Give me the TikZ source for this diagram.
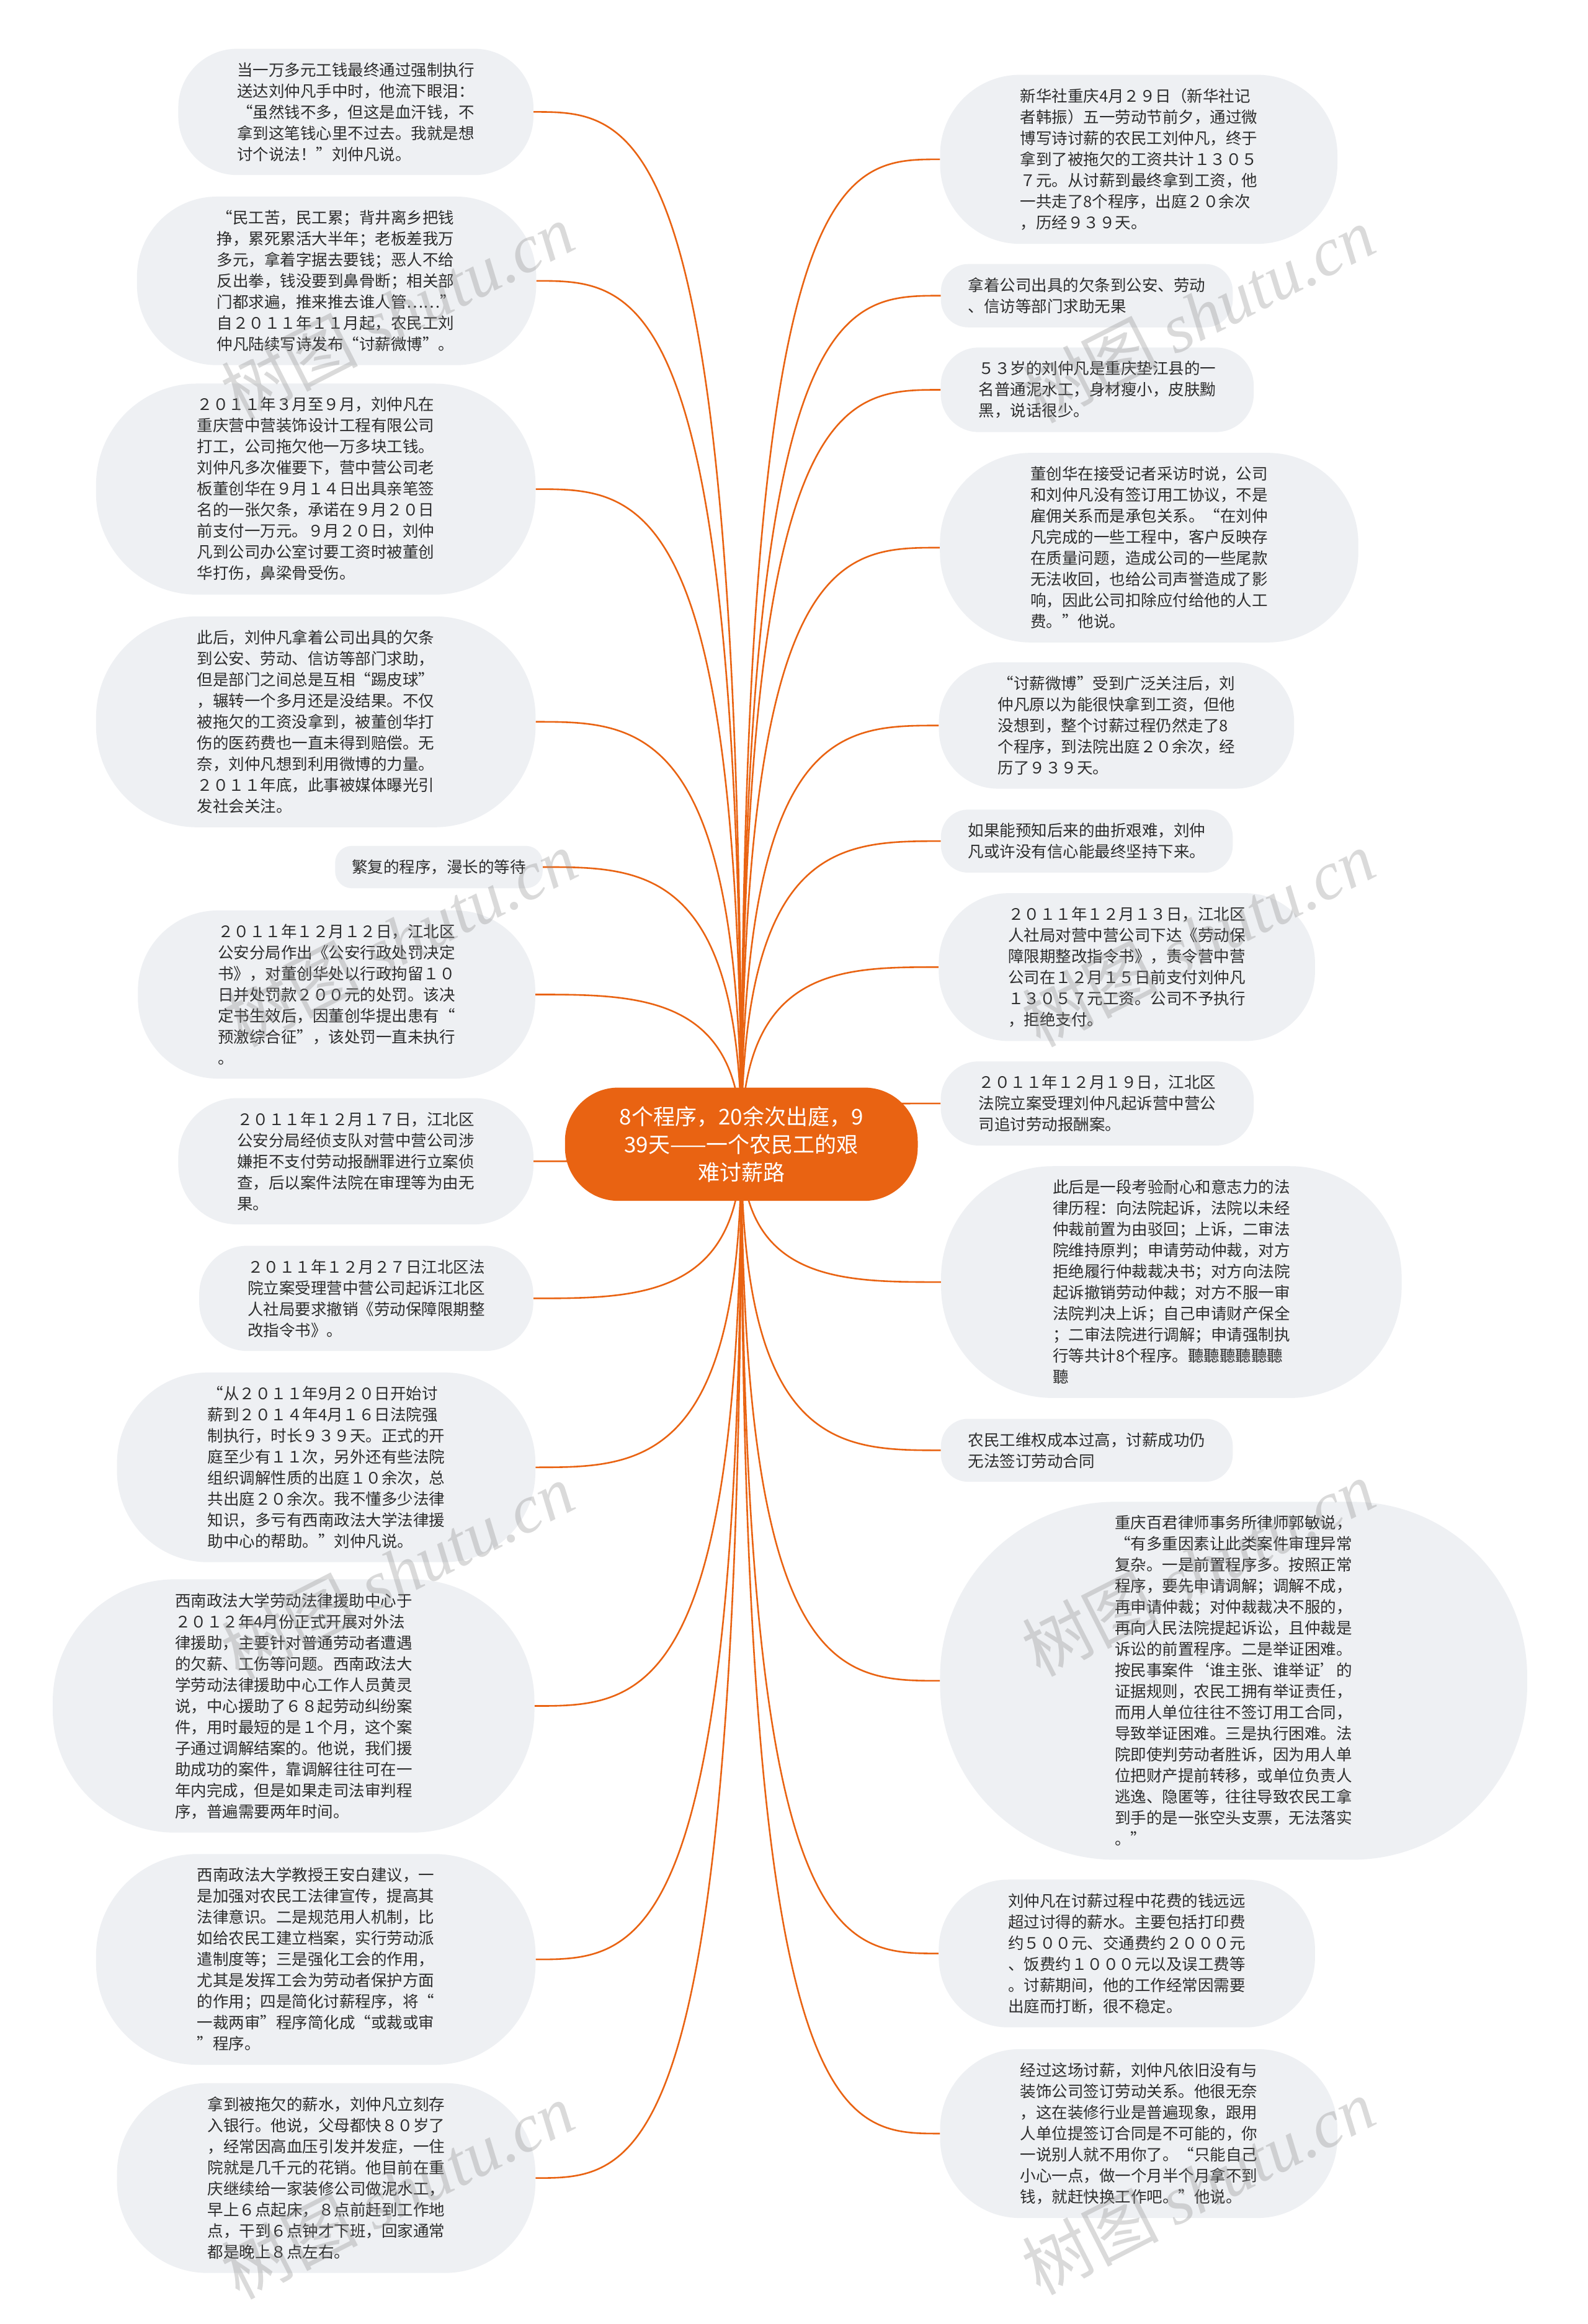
\documentclass[tikz,border=0pt]{standalone}
\usepackage{fontspec}
\setmainfont{Noto Sans CJK SC}
\newfontfamily\wmlatin{Liberation Serif}
\usetikzlibrary{backgrounds,calc}
\definecolor{mmorange}{RGB}{233,99,18}
\definecolor{bubble}{RGB}{238,240,243}
\definecolor{txt}{RGB}{45,45,45}
\definecolor{wm}{RGB}{140,140,140}
\tikzset{
  bub/.style={rectangle, fill=bubble, inner ysep=22pt,
    align=left, text=txt, font=\fontsize{25.5pt}{34pt}\selectfont},
  bubn/.style={bub, inner xsep={17pt*#1+10pt}, rounded corners={17pt*#1+10pt}},
  cnode/.style={rectangle, rounded corners=86pt, fill=mmorange, text=white, inner xsep=88pt,
    inner ysep=30pt, align=center, font=\fontsize{35pt}{45pt}\selectfont},
  conn/.style={draw=mmorange, line width=2.6pt},
  wmark/.style={text=wm, opacity=0.32, rotate=27, font=\fontsize{110pt}{120pt}\selectfont}
}
\newcommand\linkto[1]{\draw[conn] (c.center) .. controls (c.center |- #1) and ($(c.center |- #1)!0.5!(#1)$) .. (#1);}
\begin{document}
\begin{tikzpicture}[x=2.3903pt, y=-2.3897pt]
\useasboundingbox (0,0) rectangle (1071,1568);

\node[cnode] (c) at (500,772) {8个程序，20余次出庭，9\\39天——一个农民工的艰\\难讨薪路};

% left column
\node[bubn=5] (L1) at (240,75.5) {当一万多元工钱最终通过强制执行\\送达刘仲凡手中时，他流下眼泪：\\“虽然钱不多，但这是血汗钱，不\\拿到这笔钱心里不过去。我就是想\\讨个说法！”刘仲凡说。};
\node[bubn=7] (L2) at (227,189.5) {“民工苦，民工累；背井离乡把钱\\挣，累死累活大半年；老板差我万\\多元，拿着字据去要钱；恶人不给\\反出拳，钱没要到鼻骨断；相关部\\门都求遍，推来推去谁人管……”\\自２０１１年１１月起，农民工刘\\仲凡陆续写诗发布“讨薪微博”。};
\node[bubn=9] (L3) at (213,330) {２０１１年３月至９月，刘仲凡在\\重庆营中营装饰设计工程有限公司\\打工，公司拖欠他一万多块工钱。\\刘仲凡多次催要下，营中营公司老\\板董创华在９月１４日出具亲笔签\\名的一张欠条，承诺在９月２０日\\前支付一万元。９月２０日，刘仲\\凡到公司办公室讨要工资时被董创\\华打伤，鼻梁骨受伤。};
\node[bubn=9] (L4) at (213,487) {此后，刘仲凡拿着公司出具的欠条\\到公安、劳动、信访等部门求助，\\但是部门之间总是互相“踢皮球”\\，辗转一个多月还是没结果。不仅\\被拖欠的工资没拿到，被董创华打\\伤的医药费也一直未得到赔偿。无\\奈，刘仲凡想到利用微博的力量。\\２０１１年底，此事被媒体曝光引\\发社会关注。};
\node[bubn=1] (L5) at (296,585) {繁复的程序，漫长的等待};
\node[bubn=7] (L6) at (227,671) {２０１１年１２月１２日，江北区\\公安分局作出《公安行政处罚决定\\书》，对董创华处以行政拘留１０\\日并处罚款２００元的处罚。该决\\定书生效后，因董创华提出患有“\\预激综合征”，该处罚一直未执行\\。};
\node[bubn=5] (L7) at (240,783.5) {２０１１年１２月１７日，江北区\\公安分局经侦支队对营中营公司涉\\嫌拒不支付劳动报酬罪进行立案侦\\查，后以案件法院在审理等为由无\\果。};
\node[bubn=4] (L8) at (247,876) {２０１１年１２月２７日江北区法\\院立案受理营中营公司起诉江北区\\人社局要求撤销《劳动保障限期整\\改指令书》。};
\node[bubn=8] (L9) at (220,990) {“从２０１１年9月２０日开始讨\\薪到２０１４年4月１６日法院强\\制执行，时长９３９天。正式的开\\庭至少有１１次，另外还有些法院\\组织调解性质的出庭１０余次，总\\共出庭２０余次。我不懂多少法律\\知识，多亏有西南政法大学法律援\\助中心的帮助。”刘仲凡说。};
\node[bubn=11] (L10) at (198,1151) {西南政法大学劳动法律援助中心于\\２０１２年4月份正式开展对外法\\律援助，主要针对普通劳动者遭遇\\的欠薪、工伤等问题。西南政法大\\学劳动法律援助中心工作人员黄灵\\说，中心援助了６８起劳动纠纷案\\件，用时最短的是１个月，这个案\\子通过调解结案的。他说，我们援\\助成功的案件，靠调解往往可在一\\年内完成，但是如果走司法审判程\\序，普遍需要两年时间。};
\node[bubn=9] (L11) at (213,1322) {西南政法大学教授王安白建议，一\\是加强对农民工法律宣传，提高其\\法律意识。二是规范用人机制，比\\如给农民工建立档案，实行劳动派\\遣制度等；三是强化工会的作用，\\尤其是发挥工会为劳动者保护方面\\的作用；四是简化讨薪程序，将“\\一裁两审”程序简化成“或裁或审\\”程序。};
\node[bubn=8] (L12) at (220,1469.5) {拿到被拖欠的薪水，刘仲凡立刻存\\入银行。他说，父母都快８０岁了\\，经常因高血压引发并发症，一住\\院就是几千元的花销。他目前在重\\庆继续给一家装修公司做泥水工，\\早上６点起床，８点前赶到工作地\\点，干到６点钟才下班，回家通常\\都是晚上８点左右。};

% right column
\node[bubn=7] (R1) at (768,107.5) {新华社重庆4月２９日（新华社记\\者韩振）五一劳动节前夕，通过微\\博写诗讨薪的农民工刘仲凡，终于\\拿到了被拖欠的工资共计１３０５\\７元。从讨薪到最终拿到工资，他\\一共走了8个程序，出庭２０余次\\，历经９３９天。};
\node[bubn=2] (R2) at (733,199.5) {拿着公司出具的欠条到公安、劳动\\、信访等部门求助无果};
\node[bubn=3] (R3) at (740,263) {５３岁的刘仲凡是重庆垫江县的一\\名普通泥水工，身材瘦小，皮肤黝\\黑，说话很少。};
\node[bubn=8] (R4) at (775,369.5) {董创华在接受记者采访时说，公司\\和刘仲凡没有签订用工协议，不是\\雇佣关系而是承包关系。“在刘仲\\凡完成的一些工程中，客户反映存\\在质量问题，造成公司的一些尾款\\无法收回，也给公司声誉造成了影\\响，因此公司扣除应付给他的人工\\费。”他说。};
\node[bubn=5] (R5) at (753,489.5) {“讨薪微博”受到广泛关注后，刘\\仲凡原以为能很快拿到工资，但他\\没想到，整个讨薪过程仍然走了8\\个程序，到法院出庭２０余次，经\\历了９３９天。};
\node[bubn=2] (R6) at (733,567.5) {如果能预知后来的曲折艰难，刘仲\\凡或许没有信心能最终坚持下来。};
\node[bubn=6] (R7) at (760,652.5) {２０１１年１２月１３日，江北区\\人社局对营中营公司下达《劳动保\\障限期整改指令书》，责令营中营\\公司在１２月１５日前支付刘仲凡\\１３０５７元工资。公司不予执行\\，拒绝支付。};
\node[bubn=3] (R8) at (740,744.5) {２０１１年１２月１９日，江北区\\法院立案受理刘仲凡起诉营中营公\\司追讨劳动报酬案。};
\node[bubn=10] (R9) at (790,865) {此后是一段考验耐心和意志力的法\\律历程：向法院起诉，法院以未经\\仲裁前置为由驳回；上诉，二审法\\院维持原判；申请劳动仲裁，对方\\拒绝履行仲裁裁决书；对方向法院\\起诉撤销劳动仲裁；对方不服一审\\法院判决上诉；自己申请财产保全\\；二审法院进行调解；申请强制执\\行等共计8个程序。聽聽聽聽聽聽\\聽};
\node[bubn=2] (R10) at (733,978.5) {农民工维权成本过高，讨薪成功仍\\无法签订劳动合同};
\node[bubn=16] (R11) at (832,1134) {重庆百君律师事务所律师郭敏说，\\“有多重因素让此类案件审理异常\\复杂。一是前置程序多。按照正常\\程序，要先申请调解；调解不成，\\再申请仲裁；对仲裁裁决不服的，\\再向人民法院提起诉讼，且仲裁是\\诉讼的前置程序。二是举证困难。\\按民事案件‘谁主张、谁举证’的\\证据规则，农民工拥有举证责任，\\而用人单位往往不签订用工合同，\\导致举证困难。三是执行困难。法\\院即使判劳动者胜诉，因为用人单\\位把财产提前转移，或单位负责人\\逃逸、隐匿等，往往导致农民工拿\\到手的是一张空头支票，无法落实\\。”};
\node[bubn=6] (R12) at (760,1318) {刘仲凡在讨薪过程中花费的钱远远\\超过讨得的薪水。主要包括打印费\\约５００元、交通费约２０００元\\、饭费约１０００元以及误工费等\\。讨薪期间，他的工作经常因需要\\出庭而打断，很不稳定。};
\node[bubn=7] (R13) at (768,1439.5) {经过这场讨薪，刘仲凡依旧没有与\\装饰公司签订劳动关系。他很无奈\\，这在装修行业是普遍现象，跟用\\人单位提签订合同是不可能的，你\\一说别人就不用你了。“只能自己\\小心一点，做一个月半个月拿不到\\钱，就赶快换工作吧。”他说。};

\begin{scope}[on background layer]
\fill[white] (0,0) rectangle (1071,1568);
\foreach \n in {L1,L2,L3,L4,L5,L6,L7,L8,L9,L10,L11,L12} {\linkto{\n.east}}
\foreach \n in {R1,R2,R3,R4,R5,R6,R7,R8,R9,R10,R11,R12,R13} {\linkto{\n.west}}
\end{scope}

% watermarks
\node[wmark] (w1) at (268,210) {树图 {\wmlatin\itshape shutu.cn}};
\node[wmark] (w2) at (808,212) {树图 {\wmlatin\itshape shutu.cn}};
\node[wmark] (w3) at (270,633) {树图 {\wmlatin\itshape shutu.cn}};
\node[wmark] (w4) at (808,633) {树图 {\wmlatin\itshape shutu.cn}};
\node[wmark] (w5) at (268,1060) {树图 {\wmlatin\itshape shutu.cn}};
\node[wmark] (w6) at (808,1058) {树图 {\wmlatin\itshape shutu.cn}};
\node[wmark] (w7) at (268,1478) {树图 {\wmlatin\itshape shutu.cn}};
\node[wmark] (w8) at (808,1475) {树图 {\wmlatin\itshape shutu.cn}};
\end{tikzpicture}
\end{document}
